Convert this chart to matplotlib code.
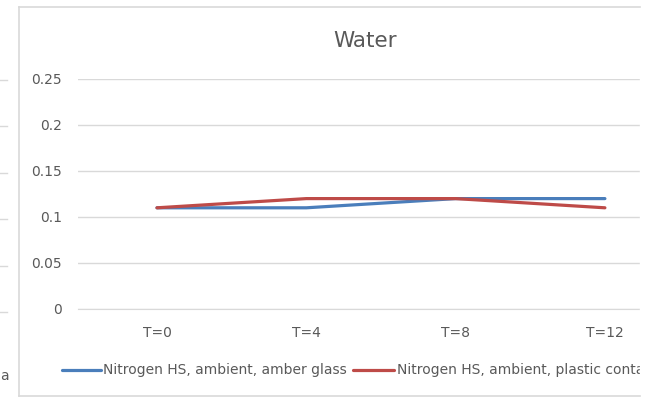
import matplotlib.pyplot as plt
from matplotlib.lines import Line2D
from matplotlib.patches import Rectangle

categories = ["T=0", "T=4", "T=8", "T=12"]
amber_glass = [0.11, 0.11, 0.12, 0.12]
plastic = [0.11, 0.12, 0.12, 0.11]
yticks = [0, 0.05, 0.1, 0.15, 0.2, 0.25]
ytick_labels = ["0", "0.05", "0.1", "0.15", "0.2", "0.25"]
labels = ["Nitrogen HS, ambient, amber glass", "Nitrogen HS, ambient, plastic container"]

blue = "#4a7ebb"
red = "#be4b48"
grey_txt = "#595959"
grid_c = "#d9d9d9"

plt.rcParams['font.family'] = ['DejaVu Sans']

W, H = 653, 399
fig = plt.figure(figsize=(W / 100, H / 100), dpi=100)


def fx(px):
    return px / W


def fy(py):
    return 1 - py / H


# plot area: y=0 at 309px, y=0.25 at 79px; T=0 at 157px, T=12 at 605px
ax = fig.add_axes([fx(78), fy(309), fx(640) - fx(78), fy(79) - fy(309)])
x = list(range(len(categories)))
ax.plot(x, amber_glass, color=blue, lw=2.3, solid_capstyle='round', zorder=3)
ax.plot(x, plastic, color=red, lw=2.3, solid_capstyle='round', zorder=3)
ax.set_xlim(-0.529, 3.235)
ax.set_ylim(0, 0.25)
ax.set_yticks(yticks)
ax.set_yticklabels(ytick_labels)
ax.set_xticks(x)
ax.set_xticklabels(categories)
ax.yaxis.grid(True, color=grid_c, lw=1)
ax.set_axisbelow(True)
for s in ["top", "right", "left"]:
    ax.spines[s].set_visible(False)
ax.spines["bottom"].set_color(grid_c)
ax.tick_params(axis='both', length=0, colors=grey_txt, labelsize=10)
ax.tick_params(axis='y', pad=11.5)
ax.tick_params(axis='x', pad=12)

fig.text(fx(365), fy(41), "Water", ha='center', va='center', fontsize=15.5, color=grey_txt)

# legend
fig.add_artist(Line2D([fx(62), fx(101)], [fy(370), fy(370)], color=blue, lw=2.3,
                      solid_capstyle='round'))
fig.text(fx(103), fy(370), labels[0], ha='left', va='center', fontsize=10, color=grey_txt)
fig.add_artist(Line2D([fx(353), fx(394)], [fy(370), fy(370)], color=red, lw=2.3,
                      solid_capstyle='round'))
fig.text(fx(397), fy(370), labels[1], ha='left', va='center', fontsize=10, color=grey_txt)

# cropped off right side
fig.add_artist(Rectangle((fx(640), 0), 1 - fx(640), 1, color='white', zorder=10,
                         transform=fig.transFigure))

# chart border
for xs, ys in [([19, 640], [7, 7]), ([19, 640], [396, 396]), ([19, 19], [7, 396])]:
    fig.add_artist(Line2D([fx(v) for v in xs], [fy(v) for v in ys], color=grid_c, lw=1.2,
                          zorder=11))

# neighbouring chart fragments on the left edge
for py in [80, 126, 173, 219, 266, 312]:
    fig.add_artist(Line2D([0, fx(7)], [fy(py), fy(py)], color=grid_c, lw=1))
fig.text(fx(0), fy(376), "a", ha='left', va='center', fontsize=10, color=grey_txt)

fig.savefig("out.png", dpi=100, facecolor='white')
